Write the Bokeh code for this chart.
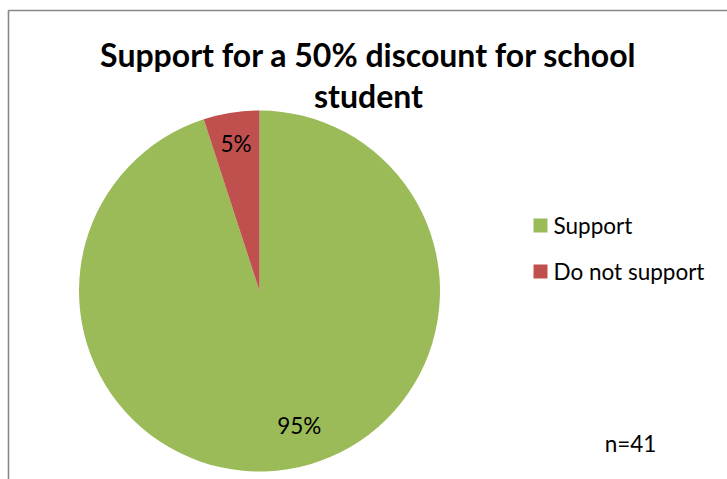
import math
from bokeh.plotting import figure
from bokeh.models import ColumnDataSource
from bokeh.core.properties import value
from bokeh.embed import file_html
from bokeh.resources import INLINE

# ---- data ----
categories = ["Support", "Do not support"]
shares = [95, 5]
pct_labels = ["95%", "5%"]
colors = ["#9BBB59", "#C0504D"]
title_lines = ["Support for a 50% discount for school", "student"]
note = "n=41"

W, H = 727, 479
FONT = "Lato"
TXT = "22.5px"

def py(y):
    return H - y

p = figure(width=W, height=H, x_range=(0, W), y_range=(0, H),
           output_backend="svg", toolbar_location=None, min_border=0,
           match_aspect=False)
p.axis.visible = False
p.grid.visible = False
p.outline_line_color = None
p.background_fill_color = "white"
p.border_fill_color = "white"

# chart area border (decoration)
p.line(x=[8, 8, W + 5], y=[py(H + 5), py(10), py(10)], line_color="#888888", line_width=1.6)

# pie
cx, cy, R = 259, py(290.5), 180.5
total = sum(shares)
starts, ends, mids = [], [], []
a = math.pi / 2
for s in shares:
    sweep = 2 * math.pi * s / total
    starts.append(a)
    ends.append(a - sweep)
    mids.append(a - sweep / 2)
    a -= sweep
src = ColumnDataSource(dict(start=starts, end=ends, color=colors, cat=categories))
p.wedge(x=cx, y=cy, radius=R, start_angle="start", end_angle="end",
        direction="clock", fill_color="color", line_color=None, source=src)

# data labels
label_r = [0.775, 0.83]
angle_shift = [math.radians(7.5), 0.0]
lx = [cx + R * f * math.cos(m + d) for m, f, d in zip(mids, label_r, angle_shift)]
ly = [cy + R * f * math.sin(m + d) for m, f, d in zip(mids, label_r, angle_shift)]
p.text(x=lx, y=ly, text=pct_labels, text_align="center", text_baseline="middle",
       text_font=value(FONT), text_font_size=TXT, text_color="#000000")

# title
p.text(x=[368, 368], y=[py(54), py(95)], text=title_lines, text_align="center",
       text_baseline="middle", text_font=value(FONT), text_font_size="32px",
       text_font_style="bold", text_color="#000000")

# legend
leg_y = [py(225), py(271)]
p.rect(x=[540, 540], y=leg_y, width=14, height=14, fill_color=colors, line_color=None)
p.text(x=[553, 553], y=leg_y, text=categories, text_align="left", text_baseline="middle",
       text_font=value(FONT), text_font_size=TXT, text_color="#000000")

# n note
p.text(x=[630], y=[py(443)], text=[note], text_align="center", text_baseline="middle",
       text_font=value(FONT), text_font_size=TXT, text_color="#000000")

open("out.html", "w").write(file_html(p, INLINE))
